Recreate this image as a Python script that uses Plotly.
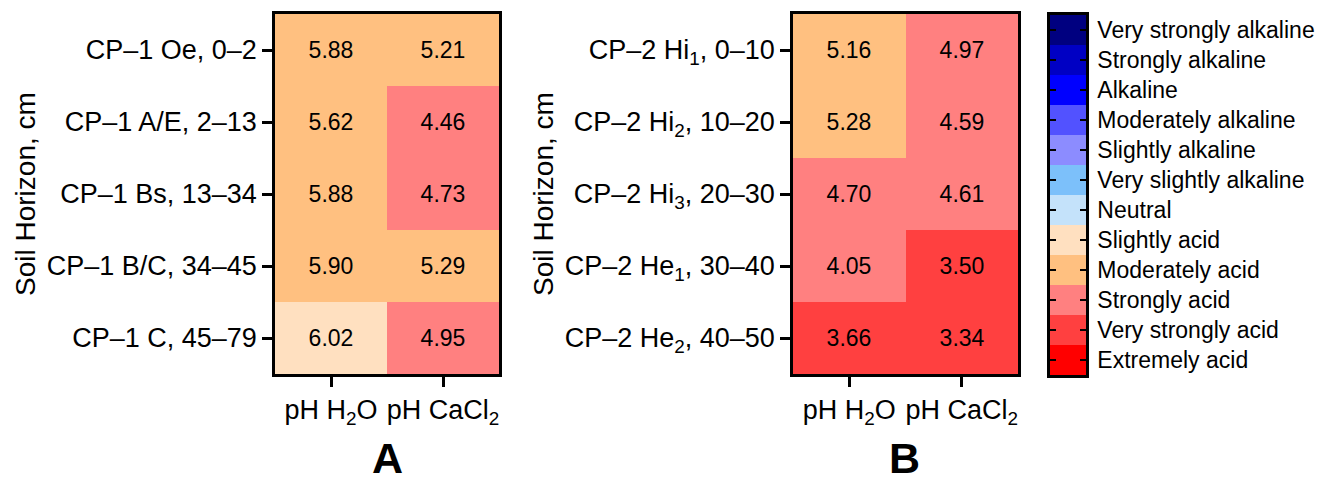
import plotly.graph_objects as go

# ---------------- data ----------------
horizons_A = ["CP–1 Oe, 0–2", "CP–1 A/E, 2–13", "CP–1 Bs, 13–34", "CP–1 B/C, 34–45", "CP–1 C, 45–79"]
ph_h2o_A = [5.88, 5.62, 5.88, 5.90, 6.02]
ph_cacl2_A = [5.21, 4.46, 4.73, 5.29, 4.95]

horizons_B = ["CP–2 Hi<sub>1</sub>, 0–10", "CP–2 Hi<sub>2</sub>, 10–20", "CP–2 Hi<sub>3</sub>, 20–30",
              "CP–2 He<sub>1</sub>, 30–40", "CP–2 He<sub>2</sub>, 40–50"]
ph_h2o_B = [5.16, 5.28, 4.70, 4.05, 3.66]
ph_cacl2_B = [4.97, 4.59, 4.61, 3.50, 3.34]

columns = ["pH H<sub>2</sub>O", "pH CaCl<sub>2</sub>"]

# acidity classes, bottom to top of the legend bar
classes = ["Extremely acid", "Very strongly acid", "Strongly acid", "Moderately acid", "Slightly acid",
           "Neutral", "Very slightly alkaline", "Slightly alkaline", "Moderately alkaline", "Alkaline",
           "Strongly alkaline", "Very strongly alkaline"]
class_lower_edges = [3.0, 4.0, 5.0, 6.0, 6.5, 7.5, 8.0, 8.5, 9.0, 9.5, 10.0]
class_colors = ["#FF0000", "#FF4040", "#FF8080", "#FFC080", "#FFE0C0", "#C4E2FA",
                "#7CC0FA", "#8C8CFF", "#5252FF", "#0000FF", "#0000C4", "#000080"]

FONT = "Arial, Liberation Sans, sans-serif"


def ph_class(v):
    k = 0
    for e in class_lower_edges:
        if v >= e:
            k += 1
    return k


n = len(classes)
colorscale = []
for i, c in enumerate(class_colors):
    colorscale.append([i / n, c])
    colorscale.append([(i + 1) / n, c])


def panel_z(h2o, cacl2):
    vals = [[a, b] for a, b in zip(h2o, cacl2)]
    z = [[ph_class(a), ph_class(b)] for a, b in zip(h2o, cacl2)]
    return z, vals


fig = go.Figure()

for idx, (hz, h2o, cacl2) in enumerate([(horizons_A, ph_h2o_A, ph_cacl2_A),
                                          (horizons_B, ph_h2o_B, ph_cacl2_B)]):
    z, vals = panel_z(h2o, cacl2)
    ax = "" if idx == 0 else "2"
    fig.add_trace(go.Heatmap(
        z=z, x=list(range(len(columns))), y=list(range(len(hz))),
        text=vals, texttemplate="%{text:.2f}",
        textfont=dict(family=FONT, size=23, color="black"),
        colorscale=colorscale, zmin=-0.5, zmax=n - 0.5, showscale=False,
        xaxis="x" + ax, yaxis="y" + ax, hoverinfo="skip"))

# legend bar as its own heatmap
fig.add_trace(go.Heatmap(
    z=[[i] for i in range(n)], x=[0], y=list(range(n)),
    colorscale=colorscale, zmin=-0.5, zmax=n - 0.5, showscale=False,
    xaxis="x3", yaxis="y3", hoverinfo="skip"))

# page offset (body margin) compensation
OX, OY = 8, 8
W = 1333 - OX
H = 477 - OY


def px(x):
    return (x - OX) / W


def py(y):
    return (H - (y - OY)) / H


ydom = [py(374), py(14)]

axis_common = dict(showline=True, linewidth=2.5, linecolor="black", mirror=True,
                   showgrid=False, zeroline=False, ticks="outside", ticklen=10, tickwidth=2.5,
                   tickcolor="black", tickfont=dict(family=FONT, size=27, color="black"))

fig.update_layout(
    width=W, height=H, margin=dict(l=0, r=0, t=0, b=0),
    paper_bgcolor="white", plot_bgcolor="white",
    xaxis=dict(domain=[px(275), px(499)], range=[-0.5, 1.5], tickvals=[0, 1], ticktext=columns,
               anchor="y", **axis_common),
    yaxis=dict(domain=ydom, range=[4.5, -0.5], tickvals=list(range(5)), ticktext=horizons_A,
               anchor="x", **axis_common),
    xaxis2=dict(domain=[px(793), px(1018)], range=[-0.5, 1.5], tickvals=[0, 1], ticktext=columns,
                anchor="y2", **axis_common),
    yaxis2=dict(domain=ydom, range=[4.5, -0.5], tickvals=list(range(5)), ticktext=horizons_B,
                anchor="x2", **axis_common),
    xaxis3=dict(domain=[px(1050), px(1086)], range=[-0.5, 0.5], showticklabels=False, ticks="",
                showline=True, linewidth=2.5, linecolor="black", mirror=True, showgrid=False,
                zeroline=False, anchor="y3"),
    yaxis3=dict(domain=[py(375), py(15)], range=[-0.5, n - 0.5],
                tickvals=list(range(n)), ticktext=classes, side="right",
                ticks="inside", ticklen=6, tickwidth=2, tickcolor="black",
                showline=True, linewidth=2.5, linecolor="black", mirror="ticks",
                showgrid=False, zeroline=False, anchor="x3", ticklabelstandoff=4,
                tickfont=dict(family=FONT, size=23, color="black")),
)

annotations = [
    dict(text="Soil Horizon, cm", x=px(25), y=py(194)),
    dict(text="Soil Horizon, cm", x=px(543), y=py(194)),
]
for a in annotations:
    a.update(xref="paper", yref="paper", showarrow=False, xanchor="center", yanchor="middle",
             textangle=-90, font=dict(family=FONT, size=28, color="black"))
letters = [dict(text="<b>A</b>", x=px(387)), dict(text="<b>B</b>", x=px(904))]
for a in letters:
    a.update(y=py(458), xref="paper", yref="paper", showarrow=False, xanchor="center",
             yanchor="middle", font=dict(family=FONT, size=43, color="black"))
fig.update_layout(annotations=annotations + letters)

fig.write_html("out.html")
